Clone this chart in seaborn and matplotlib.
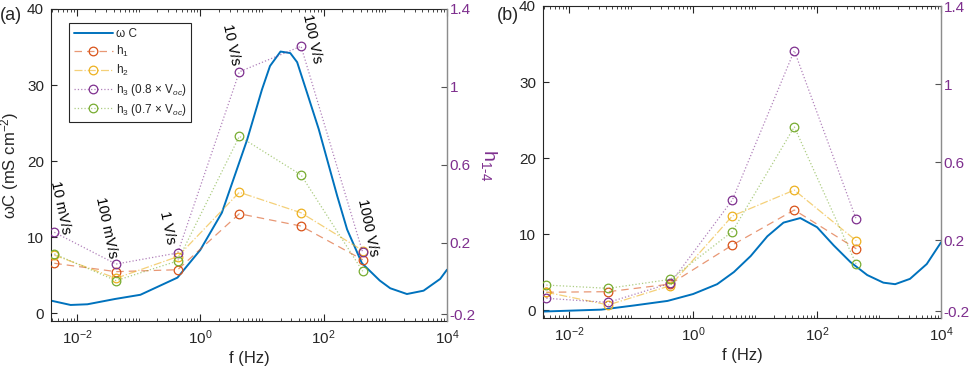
import numpy as np
import pandas as pd
import matplotlib
matplotlib.use("Agg")
import matplotlib.pyplot as plt
import seaborn as sns
from matplotlib.ticker import FixedLocator, LogLocator, NullFormatter
from matplotlib.colors import to_rgba

# ---------------- data ----------------
freq_pts = [0.0043, 0.043, 0.43, 4.3, 43, 430]
rate_labels = ["10 mV/s", "100 mV/s", "1 V/s", "10 V/s", "100 V/s", "1000 V/s"]

# panel (a) omega*C curve
f_wc_a = [0.0038, 0.0079, 0.0148, 0.0417, 0.107, 0.427, 1.0, 2.24, 5.75, 10.0,
          13.5, 20.0, 28.8, 37.2, 53.7, 83.2, 166, 240, 417, 813, 1200, 2240,
          4170, 7760, 10000]
wc_a = [1.63, 1.06, 1.15, 1.85, 2.4, 4.66, 8.3, 13.2, 22.8, 29.4,
        32.5, 34.4, 34.2, 33.0, 29.0, 24.2, 15.4, 11.0, 6.56, 4.27, 3.26, 2.5,
        2.94, 4.49, 5.7]

# panel (a) h values (right axis)
h1_a = [0.096, 0.053, 0.063, 0.350, 0.287, 0.114]
h2_a = [0.138, 0.019, 0.130, 0.460, 0.355, 0.161]
h3_08_a = [0.255, 0.092, 0.149, 1.078, 1.209, 0.152]
h3_07_a = [0.144, 0.007, 0.108, 0.747, 0.549, 0.055]

# panel (b) omega*C curve
f_wc_b = [0.0038, 0.0331, 0.112, 0.389, 1.0, 1.32, 2.45, 4.57, 8.51, 15.8, 28.8,
          53.7, 100, 186, 347, 646, 1175, 1820, 3160, 5890, 10000]
wc_b = [-0.2, 0.05, 0.6, 1.2, 2.1, 2.5, 3.4, 5.0, 7.1, 9.7, 11.5,
        12.1, 10.9, 8.5, 6.3, 4.6, 3.6, 3.4, 4.1, 6.05, 8.9]

# panel (b) h values (right axis)
h1_b = [-0.068, -0.065, -0.026, 0.174, 0.354, 0.155]
h2_b = [-0.068, -0.133, -0.034, 0.323, 0.456, 0.196]
h3_08_b = [-0.099, -0.120, -0.022, 0.405, 1.171, 0.306]
h3_07_b = [-0.031, -0.048, -0.002, 0.243, 0.780, 0.075]

series_labels = ["ω C", "h$_1$", "h$_2$",
                 "h$_3$ (0.8 × V$_{oc}$)", "h$_3$ (0.7 × V$_{oc}$)"]
left_ticks = [0, 10, 20, 30, 40]
right_ticks = [-0.165, 0.2, 0.6, 1.0, 1.4]
right_ticklabels = ["-0.2", "0.2", "0.6", "1", "1.4"]
x_ticks = [1e-2, 1e0, 1e2, 1e4]

# ---------------- style ----------------
sns.set_style("ticks")
plt.rcParams["font.family"] = ["Liberation Sans", "DejaVu Sans"]
plt.rcParams["mathtext.fontset"] = "custom"
plt.rcParams["mathtext.rm"] = "Liberation Sans"
plt.rcParams["mathtext.it"] = "Liberation Sans:italic"
plt.rcParams["mathtext.bf"] = "Liberation Sans:bold"
plt.rcParams["axes.unicode_minus"] = False

BLUE = "#0072BD"
RED = "#D95319"
YEL = "#EDB120"
PUR = "#7E2F8E"
GRN = "#77AC30"
AXC = "#262626"

h_styles = [(RED, (0, (6, 4))), (YEL, "-."), (PUR, ":"), (GRN, ":")]

fig = plt.figure(figsize=(9.69, 3.68), dpi=100)
W, H = 969, 368


def add_ax(x0, y0, x1, y1):
    return fig.add_axes([x0 / W, (H - y1) / H, (x1 - x0) / W, (y1 - y0) / H])


def draw_panel(ax, f_wc, wc, hs):
    sns.lineplot(x=f_wc, y=wc, ax=ax, color=BLUE, lw=1.4, label=series_labels[0])
    ax2 = ax.twinx()
    for (col, ls), h, lab in zip(h_styles, hs, series_labels[1:]):
        sns.lineplot(x=freq_pts, y=h, ax=ax2, color=to_rgba(col, 0.6),
                     linestyle=ls, lw=0.9, marker="o", markersize=6.2,
                     markerfacecolor="none", markeredgecolor=col,
                     markeredgewidth=0.9, label=lab)
    ax.set_xscale("log")
    ax.set_xlim(0.0038, 1e4)
    ax.set_ylim(-1.05, 40)
    ax2.set_ylim(-0.2, 1.4)
    ax.xaxis.set_major_locator(FixedLocator(x_ticks))
    ax.xaxis.set_minor_locator(LogLocator(base=10, subs=np.arange(1, 10), numticks=100))
    ax.xaxis.set_minor_formatter(NullFormatter())
    ax.set_yticks(left_ticks)
    ax2.set_yticks(right_ticks)
    ax2.set_yticklabels(right_ticklabels)
    ax.tick_params(axis="x", which="both", top=True, bottom=True, direction="in",
                   labelsize=11, pad=5, color=AXC, labelcolor=AXC)
    ax.tick_params(axis="x", which="major", length=5)
    ax.tick_params(axis="x", which="minor", length=2.5, width=0.6)
    ax.tick_params(axis="y", left=True, right=False, direction="in", length=4.5,
                   labelsize=11, pad=5, color=AXC, labelcolor=AXC)
    ax2.tick_params(axis="y", right=True, direction="in", length=4.5,
                    labelsize=11, pad=2, color="#555555", labelcolor=PUR)
    for sp in ["left", "top", "bottom"]:
        ax.spines[sp].set_color(AXC)
        ax.spines[sp].set_linewidth(0.8)
    ax2.spines["right"].set_color("#8c8c8c")
    ax2.spines["right"].set_linewidth(0.9)
    for sp in ["left", "top", "bottom"]:
        ax2.spines[sp].set_visible(False)
    ax.set_xlabel("f (Hz)", fontsize=12, labelpad=3)
    if ax.get_legend() is not None:
        ax.get_legend().remove()
    if ax2.get_legend() is not None:
        ax2.get_legend().remove()
    return ax2


# ---------------- panel (a) ----------------
axa = add_ax(51, 9, 447, 321)
axa2 = draw_panel(axa, f_wc_a, wc_a, [h1_a, h2_a, h3_08_a, h3_07_a])
axa.set_ylabel("ωC (mS cm$^{-2}$)", fontsize=12, labelpad=4)
axa2.set_ylabel("h$_{1\u20114}$", fontsize=14, color=PUR, rotation=270,
                va="bottom", labelpad=2)

handles = axa.get_lines()[:1] + axa2.get_lines()
leg = axa2.legend(handles, series_labels, loc="upper left",
                  bbox_to_anchor=(0.045, 0.955), borderaxespad=0,
                  fontsize=8.5, handlelength=3.3, handletextpad=0.3,
                  labelspacing=0.33, borderpad=0.4, frameon=True, fancybox=False)
leg.get_frame().set_edgecolor(AXC)
leg.get_frame().set_linewidth(0.8)
leg.get_frame().set_alpha(1)

ann_pos = [(0.023, 0.362), (0.139, 0.298), (0.295, 0.298),
           (0.455, 0.885), (0.659, 0.904), (0.800, 0.298)]
for lab, (xa, ya) in zip(rate_labels, ann_pos):
    axa.text(xa, ya, lab, transform=axa.transAxes, rotation=-78,
             rotation_mode="anchor", ha="center", va="center",
             fontsize=10.5, color="black", zorder=10)

# ---------------- panel (b) ----------------
axb = add_ax(543, 6, 941, 318)
axb2 = draw_panel(axb, f_wc_b, wc_b, [h1_b, h2_b, h3_08_b, h3_07_b])

fig.text(0.0, 1 - 15 / H, "(a)", fontsize=13, ha="left", va="center")
fig.text(497 / W, 1 - 15 / H, "(b)", fontsize=13, ha="left", va="center")

fig.savefig("out.png", dpi=100)
